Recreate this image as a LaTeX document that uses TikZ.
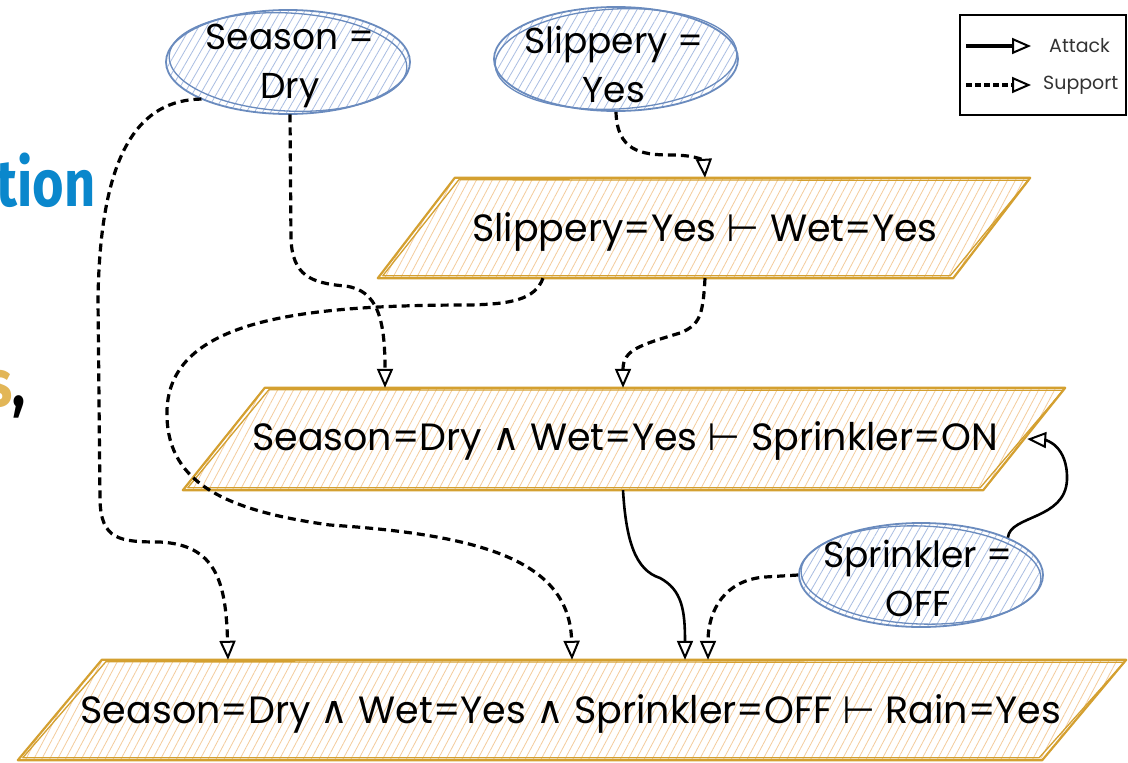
\documentclass[tikz,border=0pt]{standalone}
\usepackage{fontspec}
\usepackage{graphicx}
\setmainfont{Poppins}
\newfontfamily\symf{DejaVu Sans}
\newfontfamily\slidefont{Fira Sans}[FakeStretch=0.82]
\usetikzlibrary{shapes.geometric,arrows.meta,patterns.meta,calc}

\definecolor{ellline}{HTML}{6A8BBE}
\definecolor{ellhatch}{HTML}{A9BDE2}
\definecolor{paraline}{HTML}{D4A030}
\definecolor{parahatch}{HTML}{F4CC9C}
\definecolor{slideblue}{HTML}{0A87CC}
\definecolor{slidegold}{HTML}{E2B657}
\definecolor{legendgray}{HTML}{333333}

\newcommand\myand{{\symf ∧}}
\newcommand\myvd{{\symf ⊢}}

\tikzset{
  ell/.style={ellipse, draw=ellline, line width=1.8pt, minimum width=244pt,
    minimum height=104pt, inner sep=0pt,
    pattern={Lines[angle=60,distance=7pt,line width=0.8pt]}, pattern color=ellhatch},
  ellrough/.style={draw=ellline, line width=1.3pt},
  pbox/.style={rectangle, inner sep=0pt},
  parafill/.style={pattern={Lines[angle=62,distance=7pt,line width=0.8pt]},
    pattern color=parahatch},
  paraedge/.style={draw=paraline, line width=2.2pt, line join=round},
  lbl/.style={font=\fontsize{38}{49}\selectfont, align=center, inner sep=0pt, text=black},
  elbl/.style={lbl, font=\fontsize{36}{49}\selectfont},
  legtext/.style={font=\fontsize{19}{21}\selectfont, inner sep=0pt, text=legendgray},
  tip/.style={-{Triangle[open,length=19pt,width=16pt,line width=2pt]}},
  support/.style={draw=black, line width=3.2pt, dash pattern=on 8pt off 5pt, tip},
  attack/.style={draw=black, line width=2.6pt, tip},
}

% parallelogram drawn inside the bounding box of a named node
\newcommand\drawpara[2]{%
  \path[parafill] ([xshift=#2pt]#1.north west) -- (#1.north east)
    -- ([xshift=-#2pt]#1.south east) -- (#1.south west) -- cycle;
  \draw[paraedge] ([xshift=#2pt]#1.north west) -- (#1.north east)
    -- ([xshift=-#2pt]#1.south east) -- (#1.south west) -- cycle;
  \draw[paraedge, line width=1.3pt] ([xshift=#2pt+4pt,yshift=-2pt]#1.north west)
    -- ([xshift=-2pt,yshift=-2.5pt]#1.north east)
    -- ([xshift=-#2pt-3pt,yshift=2.5pt]#1.south east)
    -- ([xshift=5pt,yshift=2.5pt]#1.south west) -- cycle;
}

\begin{document}
\begin{tikzpicture}[x=1pt,y=-1pt]
\useasboundingbox (0,0) rectangle (1128,763);
\clip (0,0) rectangle (1128,763);
\fill[white] (0,0) rectangle (1128,763);

% slide text cut by the frame
\node[anchor=base east, inner sep=0pt, text=slideblue,
  font=\slidefont\bfseries\fontsize{66}{66}\selectfont] (tion) at (96,206) {tion};
\node[anchor=base east, inner sep=0pt,
  font=\slidefont\bfseries\fontsize{66}{66}\selectfont] (scomma) at (26,406)
  {\textcolor{slidegold}{s},};

% parallelogram arguments
\node[pbox, minimum width=652pt, minimum height=100pt] (p1) at (704,228) {};
\drawpara{p1}{77}
\node[lbl] (p1t) at (705,232) {Slippery=Yes \myvd{} Wet=Yes};

\node[pbox, minimum width=882pt, minimum height=102pt] (p2) at (624,439) {};
\drawpara{p2}{82}
\node[lbl] (p2t) at (625,441) {Season=Dry \myand{} Wet=Yes \myvd{} Sprinkler=ON};

\node[pbox, minimum width=1108pt, minimum height=100pt] (p3) at (572,710) {};
\drawpara{p3}{84}
\node[lbl] (p3t) at (571,714) {Season=Dry \myand{} Wet=Yes \myand{} Sprinkler=OFF \myvd{} Rain=Yes};

% observation ellipses
\node[ell] (sd) at (288,62) {};
\draw[ellrough, rotate around={-3:(sd.center)}] (sd.center) ellipse [x radius=119pt, y radius=49pt];
\node[elbl] (sdt) at (290,66) {Season =\\Dry};

\node[ell] (sy) at (616,59) {};
\draw[ellrough, rotate around={3:(sy.center)}] (sy.center) ellipse [x radius=121pt, y radius=50pt];
\node[elbl] (syt) at (614,64) {Slippery =\\Yes};

\node[ell] (so) at (921,575) {};
\draw[ellrough, rotate around={-2:(so.center)}] (so.center) ellipse [x radius=120pt, y radius=49pt];
\node[elbl] (sot) at (918,578) {Sprinkler =\\OFF};

% support relations
\draw[support] (sy.south) .. controls (617,150) and (640,155) .. (670,155)
  .. controls (700,155) and (704,162) .. ([xshift=1pt]p1.north);
\draw[support] ([xshift=2pt]sd.south) -- (291,240)
  .. controls (293,275) and (310,283) .. (345,286)
  .. controls (378,290) and (385,320) .. ([xshift=-239pt]p2.north);
\draw[support] (sd.south west) .. controls (140,100) and (100,150) .. (98,300)
  -- (100,500) .. controls (101,540) and (120,542) .. (160,542)
  .. controls (215,545) and (226,580) .. ([xshift=-344pt]p3.north);
\draw[support] ([xshift=-161pt]p1.south) .. controls (535,300) and (510,304) .. (470,305)
  .. controls (300,305) and (170,320) .. (167,410)
  .. controls (165,480) and (220,510) .. (330,525)
  .. controls (480,535) and (570,560) .. (p3.north);
\draw[support] ([xshift=1pt]p1.south) .. controls (703,315) and (700,325) .. (680,333)
  .. controls (640,345) and (623,350) .. ([xshift=-1pt]p2.north);
\draw[support] (so.west) -- (765,577) .. controls (725,580) and (708,610) .. ([xshift=136pt]p3.north);

% attack relations
\draw[attack] ([xshift=-1pt]p2.south) .. controls (626,540) and (635,570) .. (660,578)
  .. controls (682,590) and (685,610) .. ([xshift=113pt]p3.north);
\draw[attack] (so.north east) .. controls (1010,515) and (1065,520) .. (1067,480)
  .. controls (1068,445) and (1045,440) .. ([xshift=-38pt]p2.east);

% legend
\node[draw=black, line width=2.8pt, minimum width=166pt, minimum height=100pt,
  inner sep=0pt] (lg) at (1043,65) {};
\coordinate (la0) at (966,46);
\coordinate (la1) at (1031,46);
\coordinate (ls0) at (966,85);
\coordinate (ls1) at (1031,85);
\draw[attack, line width=3.4pt] (la0) -- (la1);
\draw[support, line width=3.2pt, dash pattern=on 6pt off 3pt] (ls0) -- (ls1);
\node[legtext, anchor=west] (lat) at (1049,46) {Attack};
\node[legtext, anchor=west] (lst) at (1043,85) {Support};
\end{tikzpicture}
\end{document}
